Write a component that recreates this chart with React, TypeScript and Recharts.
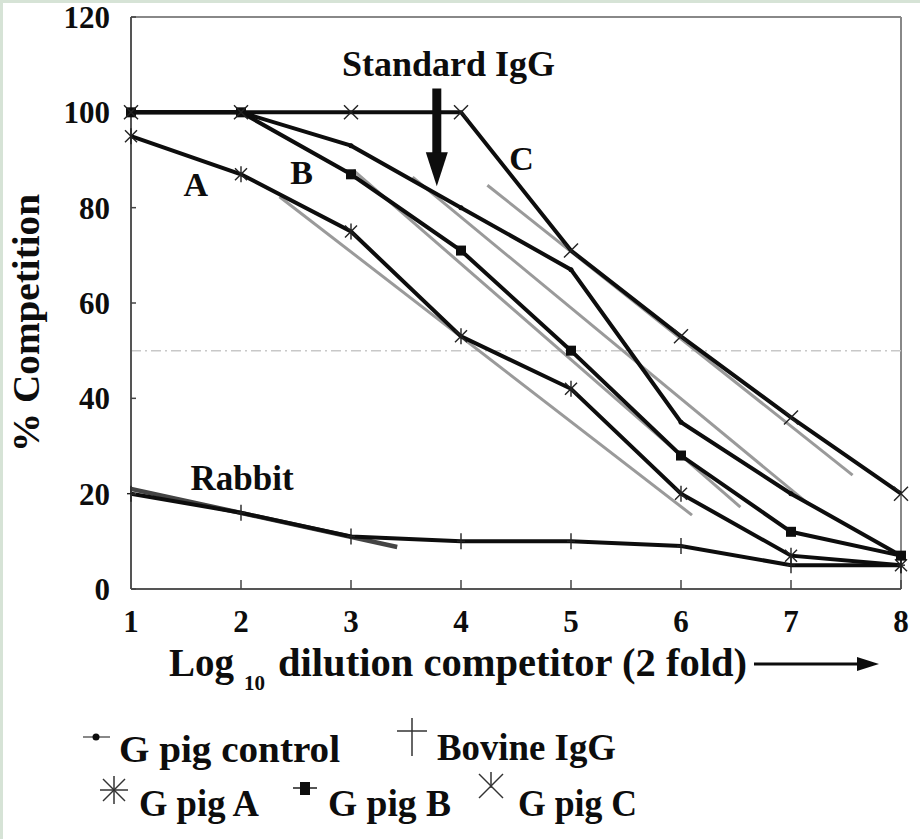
import React from 'react';
import { LineChart, Line, XAxis, YAxis, ReferenceLine, ReferenceDot, Legend } from 'recharts';

const xValues = [1, 2, 3, 4, 5, 6, 7, 8];
const controlValues = [100, 100, 93, 80, 67, 35, 20, 7];
const bovineValues = [20, 16, 11, 10, 10, 9, 5, 5];
const pigAValues = [95, 87, 75, 53, 42, 20, 7, 5];
const pigBValues = [100, 100, 87, 71, 50, 28, 12, 7];
const pigCValues = [100, 100, 100, 100, 71, 53, 36, 20];

const xTicks = [1, 2, 3, 4, 5, 6, 7, 8];
const yTicks = [0, 20, 40, 60, 80, 100, 120];

// fitted (grey) regression segments
const fitControl = [{ x: 3.56, y: 86.4 }, { x: 7.15, y: 18 }];
const fitBovine = [{ x: 1, y: 21 }, { x: 3.42, y: 8.8 }];
const fitA = [{ x: 2.35, y: 82.3 }, { x: 6.1, y: 15.5 }];
const fitB = [{ x: 3.02, y: 87.9 }, { x: 6.54, y: 17.2 }];
const fitC = [{ x: 4.24, y: 84.7 }, { x: 7.56, y: 23.9 }];

// annotations
const annotations = [
  { text: 'A', x: 1.59, y: 85, size: 34 },
  { text: 'B', x: 2.55, y: 87.5, size: 34 },
  { text: 'C', x: 4.55, y: 90.4, size: 34 },
  { text: 'Rabbit', x: 2.01, y: 23.3, size: 35 },
  { text: 'Standard IgG', x: 3.886, y: 110.2, size: 36 },
];
const arrowX = 3.78;
const arrowTop = 105;
const arrowTip = 84.5;

const legendNames = ['G pig control', 'Bovine IgG', 'G pig A', 'G pig B', 'G pig C'];

const data = xValues.map((x, i) => ({
  x,
  control: controlValues[i],
  bovine: bovineValues[i],
  pigA: pigAValues[i],
  pigB: pigBValues[i],
  pigC: pigCValues[i],
}));

const FONT = '"Liberation Serif", "Times New Roman", serif';
const INK = '#0d0d0d';

const Cross = (props: any) => {
  const { cx, cy } = props;
  if (cx == null || cy == null) return null;
  const s = 7;
  return (
    <g stroke="#222" strokeWidth={1.4}>
      <line x1={cx - s} y1={cy - s} x2={cx + s} y2={cy + s} />
      <line x1={cx - s} y1={cy + s} x2={cx + s} y2={cy - s} />
    </g>
  );
};
const Plus = (props: any) => {
  const { cx, cy } = props;
  if (cx == null || cy == null) return null;
  const s = 8;
  return (
    <g stroke="#222" strokeWidth={1.4}>
      <line x1={cx} y1={cy - s} x2={cx} y2={cy + s} />
      <line x1={cx - 4} y1={cy} x2={cx + 4} y2={cy} />
    </g>
  );
};
const Star = (props: any) => {
  const { cx, cy } = props;
  if (cx == null || cy == null) return null;
  const s = 6;
  return (
    <g stroke="#222" strokeWidth={1.4}>
      <line x1={cx - s} y1={cy - s} x2={cx + s} y2={cy + s} />
      <line x1={cx - s} y1={cy + s} x2={cx + s} y2={cy - s} />
      <line x1={cx} y1={cy - s - 2} x2={cx} y2={cy + s + 2} />
    </g>
  );
};
const Square = (props: any) => {
  const { cx, cy } = props;
  if (cx == null || cy == null) return null;
  return <rect x={cx - 5} y={cy - 5} width={10} height={10} fill={INK} />;
};
const Dot = (props: any) => {
  const { cx, cy } = props;
  if (cx == null || cy == null) return null;
  return <circle cx={cx} cy={cy} r={2.5} fill={INK} />;
};

const ArrowHead = (props: any) => {
  const { cx, cy } = props;
  if (cx == null || cy == null) return null;
  return <polygon points={`${cx - 11},${cy - 34} ${cx + 11},${cy - 34} ${cx},${cy}`} fill={INK} />;
};

const XLabel = (props: any) => {
  const vb = props.viewBox || { x: 131, y: 589, width: 770 };
  const x0 = vb.x;
  const y0 = vb.y;
  return (
    <g fontFamily={FONT} fontWeight="bold" fill={INK}>
      <text x={x0 + 38} y={y0 + 87} fontSize={40} textLength={65} lengthAdjust="spacingAndGlyphs">Log</text>
      <text x={x0 + 113} y={y0 + 101} fontSize={21}>10</text>
      <text x={x0 + 147} y={y0 + 87} fontSize={40} textLength={469} lengthAdjust="spacingAndGlyphs">
        dilution competitor (2 fold)
      </text>
      <line x1={x0 + 623} y1={y0 + 75} x2={x0 + 730} y2={y0 + 75} stroke={INK} strokeWidth={3} />
      <polygon points={`${x0 + 726},${y0 + 68} ${x0 + 748},${y0 + 75} ${x0 + 726},${y0 + 82}`} fill={INK} />
    </g>
  );
};

const YLabel = () => (
  <text
    x={26}
    y={323}
    transform="rotate(-90 26 323)"
    textAnchor="middle"
    dominantBaseline="central"
    fontFamily={FONT}
    fontWeight="bold"
    fontSize={38}
    textLength={258}
    lengthAdjust="spacingAndGlyphs"
    fill={INK}
  >
    % Competition
  </text>
);

const LegendContent = () => (
  <svg width={920} height={139} style={{ display: 'block' }}>
    <g fontFamily={FONT} fontWeight="bold" fontSize={38} fill={INK}>
      <line x1={83} y1={37} x2={110} y2={37} stroke="#888" strokeWidth={2} />
      <circle cx={96} cy={37} r={3.5} fill={INK} />
      <text x={119} y={62} textLength={221} lengthAdjust="spacingAndGlyphs">{legendNames[0]}</text>

      <line x1={412} y1={18} x2={412} y2={56} stroke="#333" strokeWidth={1.5} />
      <line x1={397} y1={31} x2={427} y2={31} stroke="#333" strokeWidth={1.5} />
      <text x={437} y={60} textLength={179} lengthAdjust="spacingAndGlyphs">{legendNames[1]}</text>

      <g stroke="#333" strokeWidth={1.5}>
        <line x1={103} y1={79} x2={125} y2={101} />
        <line x1={103} y1={101} x2={125} y2={79} />
        <line x1={114} y1={76} x2={114} y2={104} />
        <line x1={100} y1={90} x2={128} y2={90} />
      </g>
      <text x={139} y={116} textLength={120} lengthAdjust="spacingAndGlyphs">{legendNames[2]}</text>

      <line x1={293} y1={88} x2={317} y2={88} stroke="#555" strokeWidth={2} />
      <rect x={300} y={82} width={10} height={13} fill={INK} />
      <text x={328} y={116} textLength={123} lengthAdjust="spacingAndGlyphs">{legendNames[3]}</text>

      <g stroke="#333" strokeWidth={1.5}>
        <line x1={479} y1={74} x2={503} y2={98} />
        <line x1={479} y1={98} x2={503} y2={74} />
        <line x1={491} y1={72} x2={491} y2={88} />
      </g>
      <text x={518} y={116} textLength={119} lengthAdjust="spacingAndGlyphs">{legendNames[4]}</text>
    </g>
  </svg>
);

export default function App() {
  return (
    <div
      style={{
        position: 'absolute',
        left: 0,
        top: 0,
        width: 920,
        height: 839,
        background: '#ffffff',
        boxShadow: 'inset 3px 3px 0 #d6e3d6',
        fontFamily: FONT,
      }}
    >
      <LineChart width={920} height={839} data={data} margin={{ top: 17, right: 19, left: 0, bottom: 190 }}>
        <XAxis
          dataKey="x"
          type="number"
          domain={[1, 8]}
          ticks={xTicks}
          interval={0}
          height={60}
          axisLine={{ stroke: '#555', strokeWidth: 2 }}
          tickLine={{ stroke: '#444', strokeWidth: 1.5 }}
          tickSize={-9}
          tickMargin={30}
          tick={{ fontSize: 31, fontWeight: 'bold', fill: INK, fontFamily: FONT }}
          label={<XLabel />}
        />
        <YAxis
          type="number"
          domain={[0, 120]}
          ticks={yTicks}
          interval={0}
          width={131}
          axisLine={{ stroke: '#555', strokeWidth: 2 }}
          tickLine={{ stroke: '#444', strokeWidth: 1.5 }}
          tickSize={-5}
          tickMargin={26}
          tick={{ fontSize: 31, fontWeight: 'bold', fill: INK, fontFamily: FONT }}
          label={<YLabel />}
        />
        <ReferenceLine y={120} stroke="#888" strokeWidth={2} ifOverflow="visible" />
        <ReferenceLine x={8} stroke="#888" strokeWidth={2} ifOverflow="visible" />
        <ReferenceLine y={50} stroke="#c8c8c8" strokeWidth={1.5} strokeDasharray="10 4 2 4" />

        <Line data={fitControl} dataKey="y" type="linear" stroke="#9a9a9a" strokeWidth={3} dot={false} isAnimationActive={false} legendType="none" />
        <Line data={fitBovine} dataKey="y" type="linear" stroke="#444" strokeWidth={4.5} dot={false} isAnimationActive={false} legendType="none" />
        <Line data={fitA} dataKey="y" type="linear" stroke="#9a9a9a" strokeWidth={3} dot={false} isAnimationActive={false} legendType="none" />
        <Line data={fitB} dataKey="y" type="linear" stroke="#9a9a9a" strokeWidth={3} dot={false} isAnimationActive={false} legendType="none" />
        <Line data={fitC} dataKey="y" type="linear" stroke="#9a9a9a" strokeWidth={3} dot={false} isAnimationActive={false} legendType="none" />

        <Line dataKey="bovine" name={legendNames[1]} type="linear" stroke={INK} strokeWidth={4} dot={<Plus />} isAnimationActive={false} />
        <Line dataKey="pigA" name={legendNames[2]} type="linear" stroke={INK} strokeWidth={4} dot={<Star />} isAnimationActive={false} />
        <Line dataKey="pigB" name={legendNames[3]} type="linear" stroke={INK} strokeWidth={4} dot={<Square />} isAnimationActive={false} />
        <Line dataKey="control" name={legendNames[0]} type="linear" stroke={INK} strokeWidth={4} dot={<Dot />} isAnimationActive={false} />
        <Line dataKey="pigC" name={legendNames[4]} type="linear" stroke={INK} strokeWidth={4} dot={<Cross />} isAnimationActive={false} />

        <ReferenceLine
          segment={[{ x: arrowX, y: arrowTop }, { x: arrowX, y: arrowTip + 6 }]}
          stroke={INK}
          strokeWidth={9}
          ifOverflow="visible"
        />
        <ReferenceDot x={arrowX} y={arrowTip} r={0} shape={<ArrowHead />} ifOverflow="visible" />

        {annotations.map((a) => (
          <ReferenceDot
            key={a.text}
            x={a.x}
            y={a.y}
            r={0}
            fill="none"
            stroke="none"
            ifOverflow="visible"
            label={{ value: a.text, position: 'center', fontSize: a.size, fontWeight: 'bold', fill: INK, fontFamily: FONT }}
          />
        ))}

        <Legend
          layout="horizontal"
          verticalAlign="middle"
          align="center"
          content={<LegendContent />}
          wrapperStyle={{ position: 'absolute', left: 0, top: 700, width: 920, height: 139 }}
        />
      </LineChart>
    </div>
  );
}
